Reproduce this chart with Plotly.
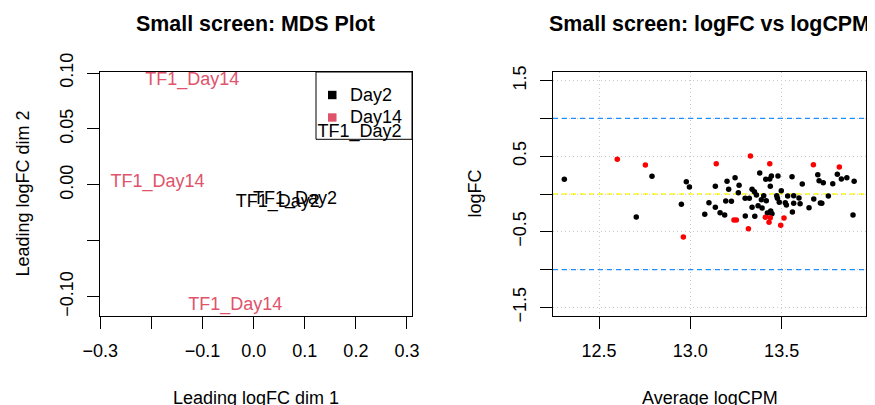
import plotly.graph_objects as go

# page body has an 8px margin: figure drawn 8px in from the window's top-left
OFF = 8
W, H = 875 - OFF, 405 - OFF
FONT = "Liberation Sans, Arial, Helvetica, sans-serif"

# ---------------- data: MDS plot ----------------
mds_labels = ["TF1_Day2", "TF1_Day2", "TF1_Day2", "TF1_Day14", "TF1_Day14", "TF1_Day14"]
mds_group = ["Day2", "Day2", "Day2", "Day14", "Day14", "Day14"]
mds_dim1 = [0.047, 0.081, 0.207, -0.120, -0.188, -0.036]
mds_dim2 = [-0.0154, -0.0132, 0.047, 0.0935, 0.0024, -0.1079]
group_names = ["Day2", "Day14"]
group_colors = ["#000000", "#DF536B"]

# ---------------- data: logFC vs logCPM ----------------
ns_logcpm = [12.31, 12.79, 12.978, 12.995, 12.951, 12.704, 13.137, 13.201, 13.245, 13.210,
             13.267, 13.263, 13.338, 13.351, 13.362, 13.300, 13.323, 13.102, 13.194, 13.225,
             13.137, 13.338, 13.371, 13.079, 13.163, 13.188, 13.301, 13.353, 13.380, 13.413,
             13.444, 13.480, 13.557, 13.438, 13.613, 13.498, 13.402, 13.473, 13.533, 13.566,
             13.595, 13.416, 13.487, 13.520, 13.526, 13.566, 13.601, 13.393, 13.650, 13.440,
             13.422, 13.447, 13.559, 13.676, 13.698, 13.705, 13.728, 13.712, 13.720, 13.756,
             13.780, 13.805, 13.827, 13.857, 13.897, 13.891, 13.435, 13.477, 13.389]
ns_logfc = [0.194, 0.234, 0.163, 0.093, -0.137, -0.304, 0.101, 0.168, 0.216, 0.062,
            0.115, 0.018, 0.062, 0.031, -0.013, -0.057, -0.057, -0.115, -0.093, -0.097,
            -0.176, -0.176, -0.154, -0.269, -0.247, -0.278, -0.291, -0.295, 0.278, 0.194,
            0.238, 0.238, 0.229, 0.101, 0.132, 0.044, -0.022, -0.022, -0.026, -0.022,
            -0.053, -0.088, -0.110, -0.115, -0.146, -0.123, -0.128, -0.185, -0.181, -0.225,
            -0.251, -0.260, -0.238, -0.066, 0.256, 0.176, 0.150, -0.119, -0.123, -0.026,
            0.136, 0.260, 0.198, 0.216, 0.168, -0.278, 0.198, -0.056, -0.077]
sig_logcpm = [12.60, 12.754, 12.962, 13.142, 13.329, 13.239, 13.252, 13.318, 13.435, 13.411,
              13.438, 13.431, 13.513, 13.495, 13.674, 13.816]
sig_logfc = [0.459, 0.384, -0.569, 0.401, 0.503, -0.344, -0.344, -0.459, 0.401, -0.309,
             -0.313, -0.375, -0.317, -0.414, 0.388, 0.357]
fc_cutoffs = [-1.0, 1.0]
zero_line = [0.0]

# ticks
mds_xticks = [-0.3, -0.2, -0.1, 0.0, 0.1, 0.2, 0.3]
mds_xtext = ["\u22120.3", "", "\u22120.1", "0.0", "0.1", "0.2", "0.3"]
mds_yticks = [-0.10, -0.05, 0.0, 0.05, 0.10]
mds_ytext = ["\u22120.10", "", "0.00", "0.05", "0.10"]
ma_xticks = [12.5, 13.0, 13.5]
ma_xtext = ["12.5", "13.0", "13.5"]
ma_yticks = [-1.5, -1.0, -0.5, 0.0, 0.5, 1.0, 1.5]
ma_ytext = ["\u22121.5", "", "\u22120.5", "", "0.5", "", "1.5"]

def px_x(p):
    return (p - OFF) / W

def px_y(p):
    return 1 - (p - OFF) / H

fig = go.Figure()

# MDS text labels
for g, c in zip(group_names, group_colors):
    idx = [i for i, gg in enumerate(mds_group) if gg == g]
    fig.add_trace(go.Scatter(
        x=[mds_dim1[i] for i in idx], y=[mds_dim2[i] for i in idx],
        text=[mds_labels[i] for i in idx], mode="text",
        textposition="middle center",
        textfont=dict(family=FONT, size=18, color=c),
        xaxis="x", yaxis="y", showlegend=False, cliponaxis=False))

# MA plot points
fig.add_trace(go.Scatter(x=ns_logcpm, y=ns_logfc, mode="markers",
                         marker=dict(color="black", size=5.5, line=dict(width=0)),
                         xaxis="x2", yaxis="y2", showlegend=False))
fig.add_trace(go.Scatter(x=sig_logcpm, y=sig_logfc, mode="markers",
                         marker=dict(color="#FF0000", size=5.5, line=dict(width=0)),
                         xaxis="x2", yaxis="y2", showlegend=False))

shapes = []
for v in fc_cutoffs:
    shapes.append(dict(type="line", xref="x2 domain", yref="y2", x0=0, x1=1, y0=v, y1=v,
                       line=dict(color="#1E90FF", width=1.3, dash="5px,4px"), layer="above"))
for v in zero_line:
    shapes.append(dict(type="line", xref="x2 domain", yref="y2", x0=0, x1=1, y0=v, y1=v,
                       line=dict(color="#FFFF00", width=1.6, dash="5px,4px"), layer="below"))

# legend (MDS panel)
shapes.append(dict(type="rect", xref="paper", yref="paper",
                   x0=px_x(316), x1=px_x(412), y0=px_y(139.3), y1=px_y(72),
                   line=dict(color="black", width=1), fillcolor="rgba(0,0,0,0)"))
leg_y = [95, 117.5]
annotations = []
for g, c, yy in zip(group_names, group_colors, leg_y):
    shapes.append(dict(type="rect", xref="paper", yref="paper",
                       x0=px_x(328), x1=px_x(336.5), y0=px_y(yy + 4.2), y1=px_y(yy - 4.2),
                       line=dict(width=0), fillcolor=c))
    annotations.append(dict(text=g, xref="paper", yref="paper", x=px_x(348), y=px_y(yy),
                            xanchor="left", yanchor="middle", showarrow=False,
                            font=dict(family=FONT, size=18, color="black")))

# titles
for txt, cx in [("Small screen: MDS Plot", 255.5), ("Small screen: logFC vs logCPM", 709.5)]:
    annotations.append(dict(text="<b>%s</b>" % txt, xref="paper", yref="paper",
                            x=px_x(cx), y=px_y(24.5), xanchor="center", yanchor="middle",
                            showarrow=False, font=dict(family=FONT, size=21.4, color="black")))
# axis titles
for txt, cx in [("Leading logFC dim 1", 256), ("Average logCPM", 709.5)]:
    annotations.append(dict(text=txt, xref="paper", yref="paper", x=px_x(cx), y=px_y(397.5),
                            xanchor="center", yanchor="middle", showarrow=False,
                            font=dict(family=FONT, size=18, color="black")))
for txt, cx in [("Leading logFC dim 2", 22.5), ("logFC", 474.5)]:
    annotations.append(dict(text=txt, xref="paper", yref="paper", x=px_x(cx), y=px_y(194),
                            xanchor="center", yanchor="middle", showarrow=False, textangle=-90,
                            font=dict(family=FONT, size=18, color="black")))

axis_common = dict(showline=True, mirror=True, linecolor="black", linewidth=1,
                   ticks="outside", ticklen=12, tickwidth=1, tickcolor="black",
                   zeroline=False, tickmode="array", automargin=False,
                   tickfont=dict(family=FONT, size=18, color="black"))
grid_style = dict(showgrid=True, gridcolor="#C8C8C8", griddash="1px,3px", gridwidth=1)

ydom = [px_y(316), px_y(72)]
fig.update_layout(
    width=W, height=H, margin=dict(l=0, r=0, t=0, b=0, pad=0, autoexpand=False),
    paper_bgcolor="white", plot_bgcolor="white",
    font=dict(family=FONT, size=18, color="black"),
    xaxis=dict(domain=[px_x(100), px_x(412)], range=[-0.3006, 0.3098],
               tickvals=mds_xticks, ticktext=mds_xtext, showgrid=False,
               ticklabelstandoff=6, anchor="y", **axis_common),
    yaxis=dict(domain=ydom, range=[-0.1172, 0.1009],
               tickvals=mds_yticks, ticktext=mds_ytext, showgrid=False,
               tickangle=-90, ticklabelstandoff=7, anchor="x", **axis_common),
    xaxis2=dict(domain=[px_x(553), px_x(866)], range=[12.248, 13.962],
                tickvals=ma_xticks, ticktext=ma_xtext,
                ticklabelstandoff=6, anchor="y2", **grid_style, **axis_common),
    yaxis2=dict(domain=ydom, range=[-1.614, 1.614],
                tickvals=ma_yticks, ticktext=ma_ytext,
                tickangle=-90, ticklabelstandoff=7, anchor="x2", **grid_style, **axis_common),
    shapes=shapes, annotations=annotations, showlegend=False,
)

fig.write_html("out.html")
